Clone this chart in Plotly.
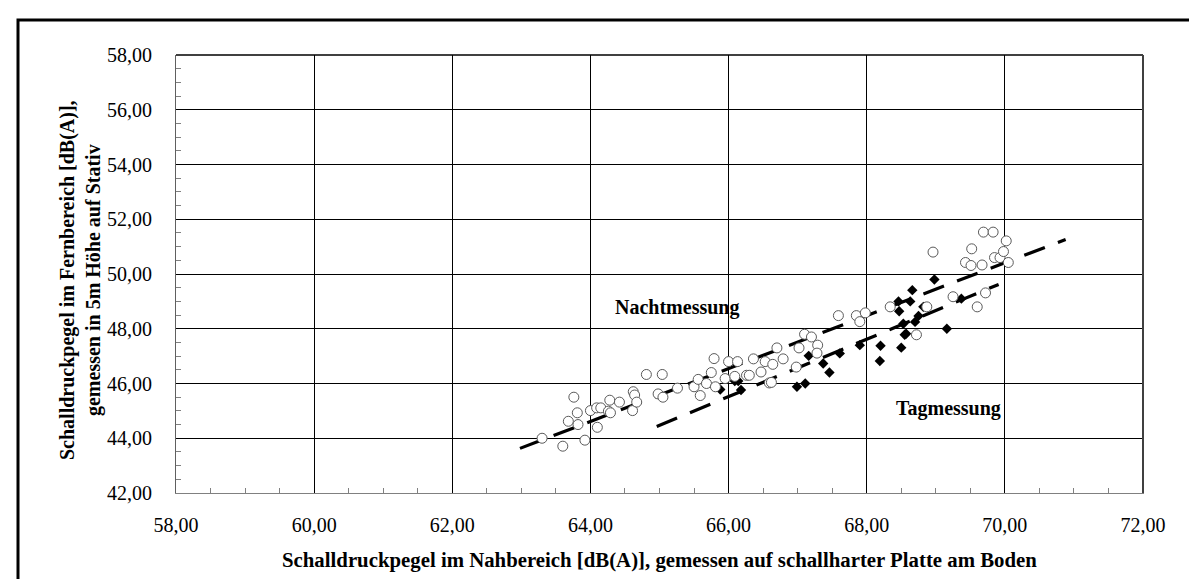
import plotly.graph_objects as go

# Nachtmessung (open circles)
nacht_x = [63.30, 63.60, 63.76, 63.81, 63.68, 63.82, 63.92, 64.00, 64.10, 64.09,
           64.15, 64.28, 64.26, 64.29, 64.42, 64.61, 64.62, 64.64, 64.67, 64.81,
           65.04, 64.98, 65.05, 65.26, 65.50, 65.56, 65.59, 65.68, 65.75, 65.81,
           65.79, 65.95, 66.00, 66.13, 66.09, 66.26, 66.30, 66.36, 66.47, 66.53,
           66.64, 66.59, 66.62, 66.79, 66.70, 66.98, 67.02, 67.10, 67.20, 67.29,
           67.28, 67.59, 67.85, 67.90, 67.98, 68.34, 68.72, 68.87, 68.96, 69.25,
           69.43, 69.51, 69.52, 69.60, 69.67, 69.69, 69.72, 69.83, 69.85, 69.93,
           69.98, 70.02, 70.05]
nacht_y = [44.00, 43.71, 45.50, 44.93, 44.62, 44.50, 43.93, 45.01, 44.40, 45.11,
           45.11, 45.39, 44.99, 44.93, 45.32, 45.01, 45.70, 45.58, 45.32, 46.33,
           46.33, 45.62, 45.50, 45.83, 45.88, 46.15, 45.56, 46.00, 46.40, 45.88,
           46.91, 46.18, 46.80, 46.80, 46.26, 46.30, 46.30, 46.90, 46.42, 46.80,
           46.70, 46.02, 46.04, 46.90, 47.30, 46.60, 47.30, 47.80, 47.70, 47.40,
           47.11, 48.48, 48.48, 48.26, 48.58, 48.80, 47.78, 48.80, 50.80, 49.17,
           50.42, 50.31, 50.92, 48.80, 50.33, 51.53, 49.31, 51.53, 50.60, 50.60,
           50.82, 51.21, 50.42]

# Tagmessung (filled diamonds)
tag_x = [65.88, 66.09, 66.14, 66.18, 66.99, 67.11, 67.16, 67.37, 67.46, 67.61,
         67.90, 68.20, 68.19, 68.50, 68.57, 68.46, 68.47, 68.53, 68.55, 68.63,
         68.66, 68.70, 68.75, 68.82, 68.98, 69.16, 69.37]
tag_y = [45.78, 46.09, 46.09, 45.76, 45.88, 46.00, 47.01, 46.73, 46.40, 47.10,
         47.40, 47.38, 46.82, 47.31, 47.82, 49.00, 48.64, 48.18, 47.78, 49.00,
         49.41, 48.25, 48.47, 48.80, 49.80, 48.00, 49.10]

# Trend lines (endpoints as drawn)
nacht_trend_x = [62.98, 70.88]
nacht_trend_y = [43.63, 51.26]
tag_trend_x = [64.96, 69.91]
tag_trend_y = [44.43, 49.62]

x_title = "Schalldruckpegel im Nahbereich [dB(A)], gemessen auf schallharter Platte am Boden"
y_title = "Schalldruckpegel im Fernbereich [dB(A)],<br>gemessen in 5m Höhe auf Stativ"

FONT = "Liberation Serif"

fig = go.Figure()
fig.add_trace(go.Scatter(x=nacht_trend_x, y=nacht_trend_y, mode="lines",
                         line=dict(color="black", width=3.2, dash="22px,14px"),
                         hoverinfo="skip", showlegend=False))
fig.add_trace(go.Scatter(x=tag_trend_x, y=tag_trend_y, mode="lines",
                         line=dict(color="black", width=3.2, dash="22px,14px"),
                         hoverinfo="skip", showlegend=False))
fig.add_trace(go.Scatter(x=tag_x, y=tag_y, mode="markers", name="Tagmessung",
                         marker=dict(symbol="diamond", size=8, color="black",
                                     line=dict(width=0)),
                         showlegend=False))
fig.add_trace(go.Scatter(x=nacht_x, y=nacht_y, mode="markers", name="Nachtmessung",
                         marker=dict(symbol="circle", size=10, color="white",
                                     line=dict(color="#5a5a5a", width=1)),
                         showlegend=False))

L, T, R, B = 168, 47, 1135, 485
W, H = 1197, 579
pw, ph = R - L, B - T

def px(xp):
    return (xp - L) / pw

def py(yp):
    return (B - yp) / ph

fig.update_layout(
    width=W, height=H, autosize=False,
    margin=dict(l=L, r=W - R, t=T, b=H - B),
    paper_bgcolor="white", plot_bgcolor="white",
    separators=", ",
    font=dict(family=FONT, color="black", size=20),
    xaxis=dict(range=[58, 72], tick0=58, dtick=2, tickformat=".2f",
               showgrid=True, gridcolor="black", gridwidth=1,
               showline=True, linecolor="#808080", linewidth=1,
               zeroline=False, ticks="", ticklabelstandoff=14,
               tickfont=dict(size=20, family=FONT),
               minor=dict(dtick=0.5, ticks="inside", ticklen=5,
                          tickcolor="#808080", showgrid=False)),
    yaxis=dict(range=[42, 58], tick0=42, dtick=2, tickformat=".2f",
               showgrid=True, gridcolor="black", gridwidth=1,
               showline=True, linecolor="#606060", linewidth=1, mirror=True,
               zeroline=False, ticks="", ticklabelstandoff=19,
               tickfont=dict(size=20, family=FONT),
               minor=dict(dtick=0.5, ticks="inside", ticklen=5,
                          tickcolor="#808080", showgrid=False)),
    annotations=[
        dict(text="<b>Nachtmessung</b>", x=65.26, y=48.76, xref="x", yref="y",
             showarrow=False, font=dict(size=20, family=FONT)),
        dict(text="<b>Tagmessung</b>", x=69.18, y=45.10, xref="x", yref="y",
             showarrow=False, font=dict(size=20, family=FONT)),
        dict(text="<b>" + x_title + "</b>", x=0.5, y=py(552), xref="paper", yref="paper",
             showarrow=False, font=dict(size=20.8, family=FONT), yanchor="middle"),
        dict(text="<b>" + y_title + "</b>", x=px(72), y=py(272), xref="paper", yref="paper",
             showarrow=False, textangle=-90, font=dict(size=20, family=FONT),
             xanchor="center", yanchor="middle"),
    ],
    shapes=[
        dict(type="line", xref="paper", yref="paper", x0=0, x1=1, y0=1, y1=1,
             line=dict(color="black", width=1.5)),
        dict(type="line", xref="paper", yref="paper", x0=1, x1=1, y0=0, y1=1,
             line=dict(color="#404040", width=2)),
        dict(type="rect", xref="paper", yref="paper",
             x0=px(10), x1=px(1205), y0=py(590), y1=py(12),
             line=dict(color="black", width=3), fillcolor="rgba(0,0,0,0)",
             layer="above"),
    ],
)

fig.write_html("out.html")
